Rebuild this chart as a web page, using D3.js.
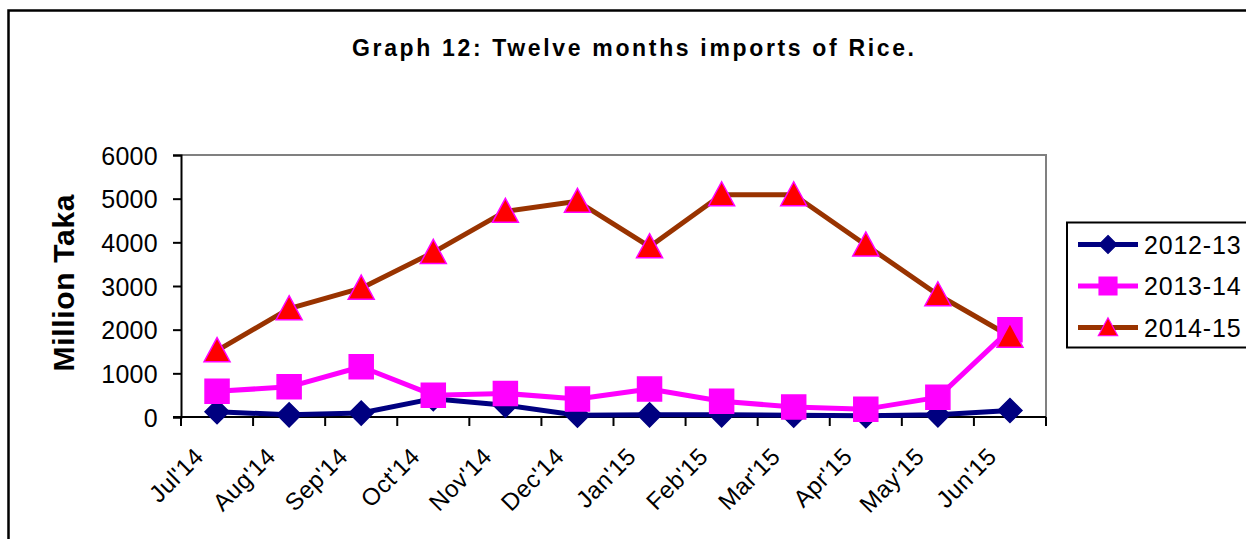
<!DOCTYPE html>
<html><head><meta charset="utf-8">
<script src="https://cdn.jsdelivr.net/npm/d3@7"></script>
<style>
html,body{margin:0;padding:0;background:#fff;}
svg{display:block;font-family:"Liberation Sans",Arial,sans-serif;}
</style></head>
<body>
<svg id="chart" width="1246" height="539"></svg>
<script>
const months = ["Jul'14","Aug'14","Sep'14","Oct'14","Nov'14","Dec'14","Jan'15","Feb'15","Mar'15","Apr'15","May'15","Jun'15"];
const seriesNames = ["2012-13","2013-14","2014-15"];
const values1213 = [120, 50, 90, 420, 270, 40, 50, 50, 40, 30, 50, 150];
const values1314 = [590, 690, 1150, 500, 540, 410, 640, 360, 230, 180, 450, 2000];
const values1415 = [1520, 2480, 2950, 3770, 4710, 4940, 3900, 5090, 5090, 3940, 2800, 1850];
const yTicks = [0, 1000, 2000, 3000, 4000, 5000, 6000];

const series = [
  {name: seriesNames[0], values: values1213, line: "#000080", fill: "#000080", stroke: "#000080", shape: "diamond"},
  {name: seriesNames[1], values: values1314, line: "#FF00FF", fill: "#FF00FF", stroke: "#FF00FF", shape: "square"},
  {name: seriesNames[2], values: values1415, line: "#993300", fill: "#FF0000", stroke: "#FF00FF", shape: "triangle"}
];

const svg = d3.select("#chart");
const L = 181, R = 1046, T = 155, B = 417;

// outer frame
svg.append("rect").attr("x", 8.5).attr("y", 10.5).attr("width", 1300).attr("height", 600)
  .attr("fill", "none").attr("stroke", "#000").attr("stroke-width", 2.5);

const x = d3.scaleBand().domain(months).range([L, R]).padding(0);
const y = d3.scaleLinear().domain([0, 6000]).range([B, T]);

// plot border (top/right gray)
svg.append("path").attr("d", `M${L},${T}H${R}V${B}`).attr("fill", "none")
  .attr("stroke", "#808080").attr("stroke-width", 2);

// Title
svg.append("text").attr("x", 633).attr("y", 56).attr("text-anchor", "middle")
  .attr("font-size", 23).attr("font-weight", "bold")
  .attr("textLength", 562).attr("lengthAdjust", "spacing")
  .text("Graph 12: Twelve months imports of Rice.");

// Y axis
const yAxis = d3.axisLeft(y).tickValues(yTicks).tickSize(8).tickPadding(15).tickFormat(d3.format("d"));
const gy = svg.append("g").attr("transform", `translate(${L},0)`).call(yAxis);
gy.select(".domain").attr("stroke", "#000").attr("stroke-width", 2);
gy.selectAll(".tick line").attr("stroke", "#000").attr("stroke-width", 2);
gy.selectAll(".tick text").attr("font-size", 25).attr("fill", "#000")
  .attr("font-family", "Liberation Sans, Arial, sans-serif").attr("letter-spacing", 0.3)
  .attr("dy", "0.36em");

// X axis ticks at band boundaries
const boundaries = d3.range(months.length + 1).map(i => L + i * x.bandwidth());
svg.append("g").selectAll("line").data(boundaries).join("line")
  .attr("x1", d => d).attr("x2", d => d).attr("y1", B).attr("y2", B + 9)
  .attr("stroke", "#000").attr("stroke-width", 2);
svg.append("line").attr("x1", L - 8).attr("x2", R).attr("y1", B).attr("y2", B)
  .attr("stroke", "#000").attr("stroke-width", 2);

// X labels
svg.append("g").selectAll("text").data(months).join("text")
  .attr("transform", d => `translate(${x(d) + x.bandwidth() / 2 - 12},${B + 41}) rotate(-45)`)
  .attr("text-anchor", "end").attr("font-size", 24).attr("letter-spacing", 0.5)
  .text(d => d);

// Y label
svg.append("text").attr("transform", "translate(74,283) rotate(-90)")
  .attr("text-anchor", "middle").attr("font-size", 30).attr("font-weight", "bold")
  .attr("textLength", 177).attr("lengthAdjust", "spacing")
  .text("Million Taka");

// markers
function marker(sel, shape) {
  if (shape === "diamond") sel.attr("d", "M0,-12L12,0L0,12L-12,0Z");
  else if (shape === "square") sel.attr("d", "M-12,-12H12V12H-12Z");
  else sel.attr("d", "M0,-13L13,11H-13Z");
}

const line = d3.line().x((d, i) => x(months[i]) + x.bandwidth() / 2).y(d => y(d));
series.forEach(s => {
  svg.append("path").datum(s.values).attr("d", line).attr("fill", "none")
    .attr("stroke", s.line).attr("stroke-width", 5).attr("stroke-linejoin", "round");
});
series.forEach(s => {
  svg.append("g").selectAll("path").data(s.values).join("path")
    .attr("transform", (d, i) => `translate(${x(months[i]) + x.bandwidth() / 2},${y(d)})`)
    .call(marker, s.shape)
    .attr("fill", s.fill).attr("stroke", s.stroke).attr("stroke-width", 1.5);
});

// Legend
const lg = svg.append("g");
lg.append("rect").attr("x", 1067).attr("y", 222.5).attr("width", 300).attr("height", 125)
  .attr("fill", "#fff").attr("stroke", "#000").attr("stroke-width", 2);
const rowY = [244.5, 286, 327.5];
series.forEach((s, i) => {
  lg.append("line").attr("x1", 1078).attr("x2", 1138).attr("y1", rowY[i]).attr("y2", rowY[i])
    .attr("stroke", s.line).attr("stroke-width", 5);
  lg.append("path").call(marker, s.shape)
    .attr("fill", s.fill).attr("stroke", s.stroke).attr("stroke-width", 1.5)
    .attr("transform", `translate(1108,${rowY[i]}) scale(0.75)`);
  lg.append("text").attr("x", 1144).attr("y", rowY[i]).attr("dy", "0.36em")
    .attr("font-size", 25).attr("letter-spacing", 0.8).text(s.name);
});
</script>
</body></html>
